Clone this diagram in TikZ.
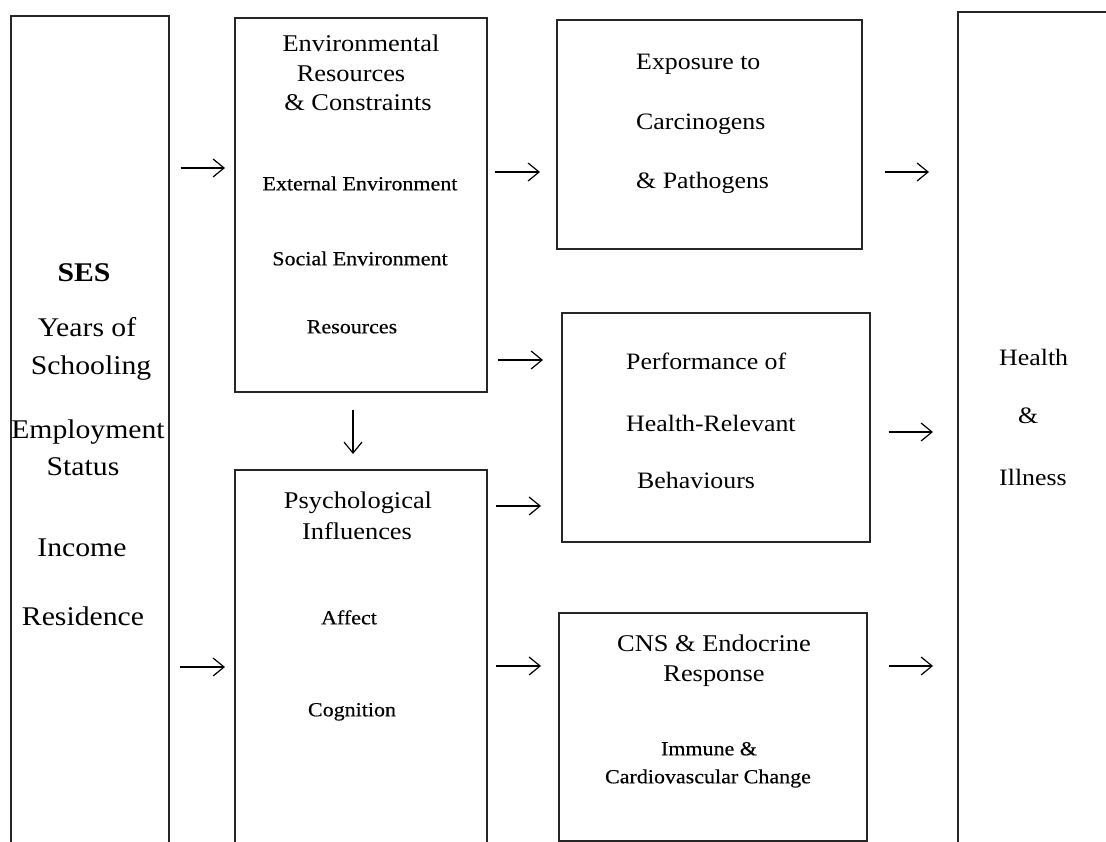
\documentclass[tikz,border=0pt]{standalone}
\usepackage{fontspec}
\setmainfont{Liberation Serif}[FakeStretch=1.1]
\newfontfamily\lblfont{Liberation Serif}[FakeStretch=1.1,FakeBold=0.4]
\usetikzlibrary{arrows.meta}
\newcommand\fsBig{\fontsize{27pt}{32pt}\selectfont}
\newcommand\fsMid{\fontsize{24pt}{29pt}\selectfont}
\newcommand\fsBox{\fontsize{23.5pt}{28pt}\selectfont}
\newcommand\fsSmall{\lblfont\fontsize{20pt}{24pt}\selectfont}
\tikzset{
  box/.style={draw=black!85, line width=1.6pt, rectangle, inner sep=0pt, anchor=north west},
  txt/.style={inner sep=0pt, text height=0.66em, text depth=0pt, anchor=center, yshift=-5pt},
  ltxt/.style={txt, anchor=west},
  big/.style={font=\fsBig},
  mid/.style={font=\fsMid},
  bx/.style={font=\fsBox},
  sm/.style={font=\fsSmall},
  arr/.style={line width=1.2pt, -{Straight Barb[length=11pt,width=18pt,line width=1.2pt]}}
}
\begin{document}
\begin{tikzpicture}[x=1pt,y=-1pt]
\useasboundingbox (0,0) rectangle (1106,842);
% boxes
\node[box, minimum width=158pt, minimum height=840pt] (ses) at (10,15) {};
\node[box, minimum width=252pt, minimum height=374pt] (env) at (234,17) {};
\node[box, minimum width=305pt, minimum height=229pt] (expo) at (556,19) {};
\node[box, minimum width=308pt, minimum height=229pt] (perf) at (561,312) {};
\node[box, minimum width=252pt, minimum height=390pt] (psych) at (234,469) {};
\node[box, minimum width=308pt, minimum height=228pt] (cns) at (558,612) {};
\node[box, minimum width=170pt, minimum height=850pt] (health) at (957,11) {};
% SES texts
\node[txt, font=\fsBig\bfseries] (t1) at (84,273) {SES};
\node[txt, big] (t2) at (87,328) {Years of};
\node[txt, big] (t3) at (91,366) {Schooling};
\node[txt, big] (t4) at (88,430) {Employment};
\node[txt, big] (t5) at (83,467) {Status};
\node[txt, big] (t6) at (82,548) {Income};
\node[txt, big] (t7) at (83,617) {Residence};
% Environmental
\node[txt, mid] (e1) at (361,43) {Environmental};
\node[txt, mid] (e2) at (351,73) {Resources};
\node[txt, mid] (e3) at (358,102) {\& Constraints};
\node[txt, sm] (e4) at (360,182) {External Environment};
\node[txt, sm] (e5) at (360,257) {Social Environment};
\node[txt, sm] (e6) at (352,325) {Resources};
% Exposure
\node[ltxt, bx] (x1) at (636,61) {Exposure to};
\node[ltxt, bx] (x2) at (636,121) {Carcinogens};
\node[ltxt, bx] (x3) at (636,180) {\& Pathogens};
% Performance
\node[ltxt, bx] (p1) at (626,361) {Performance of};
\node[ltxt, bx] (p2) at (626,423) {Health-Relevant};
\node[ltxt, bx] (p3) at (637,480) {Behaviours};
% Psychological
\node[txt, mid] (s1) at (358,500) {Psychological};
\node[txt, mid] (s2) at (357,531) {Influences};
\node[txt, sm] (s3) at (349,616) {Affect};
\node[txt, sm] (s4) at (352,708) {Cognition};
% CNS
\node[txt, mid] (c1) at (714,643) {CNS \& Endocrine};
\node[txt, mid] (c2) at (714,673) {Response};
\node[txt, sm] (c3) at (709,747) {Immune \&};
\node[txt, sm] (c4) at (708,775) {Cardiovascular Change};
% Health
\node[ltxt, bx] (h1) at (999,357) {Health};
\node[ltxt, bx] (h2) at (1018,415) {\&};
\node[ltxt, bx] (h3) at (999,477) {Illness};
% arrow levels
\coordinate (ya) at (0,168);
\coordinate (yb) at (0,667);
\coordinate (yc) at (0,172);
\coordinate (yd) at (0,360);
\coordinate (ye) at (0,506);
\coordinate (yf) at (0,666);
\coordinate (yg) at (0,432);
\coordinate (xv) at (353,0);
% arrows
\draw[arr] ([xshift=11pt]ses.east |- ya) -- ([xshift=-9pt]env.west |- ya);
\draw[arr] ([xshift=10pt]ses.east |- yb) -- ([xshift=-9pt]psych.west |- yb);
\draw[arr] ([xshift=7pt]env.east |- yc) -- ([xshift=-16pt]expo.west |- yc);
\draw[arr] ([xshift=10pt]env.east |- yd) -- ([xshift=-18pt]perf.west |- yd);
\draw[arr] ([xshift=8pt]psych.east |- ye) -- ([xshift=-20pt]perf.west |- ye);
\draw[arr] ([xshift=8pt]psych.east |- yf) -- ([xshift=-17pt]cns.west |- yf);
\draw[arr] ([xshift=22pt]expo.east |- yc) -- ([xshift=-28pt]health.west |- yc);
\draw[arr] ([xshift=18pt]perf.east |- yg) -- ([xshift=-24pt]health.west |- yg);
\draw[arr] ([xshift=21pt]cns.east |- yf) -- ([xshift=-24pt]health.west |- yf);
\draw[arr] ([yshift=-17pt]env.south -| xv) -- ([yshift=15pt]psych.north -| xv);
\end{tikzpicture}
\end{document}
